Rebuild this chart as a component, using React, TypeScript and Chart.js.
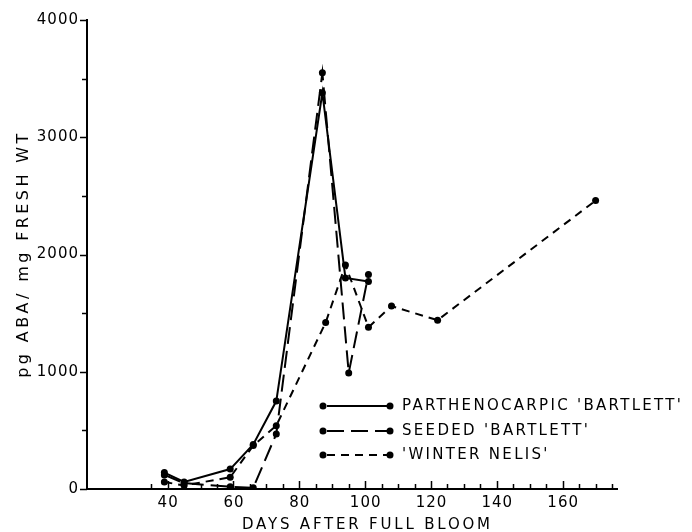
import { useEffect, useRef } from 'react';
import { Chart, registerables } from 'chart.js';

Chart.register(...registerables);

// Days after full bloom and pg ABA / mg fresh wt for each cultivar
const partDays = [39, 45, 59, 66, 73, 87, 94, 101];
const partVals = [140, 60, 170, 380, 750, 3380, 1800, 1770];

const seedDays = [39, 45, 59, 66, 73, 87, 95, 101];
const seedVals = [120, 50, 20, 10, 470, 3550, 990, 1830];

const nelisDays = [39, 45, 59, 66, 73, 88, 94, 101, 108, 122, 170];
const nelisVals = [60, 30, 100, 370, 540, 1420, 1910, 1380, 1560, 1440, 2460];

const seriesNames = ["PARTHENOCARPIC 'BARTLETT'", "SEEDED 'BARTLETT'", "'WINTER NELIS'"];

const xTickLabels = [40, 60, 80, 100, 120, 140, 160];
const yTickLabels = [0, 1000, 2000, 3000, 4000];

const xTitle = 'DAYS AFTER FULL BLOOM';
const yTitle = 'pg ABA/ mg FRESH WT';

const FONT = '"DejaVu Sans", sans-serif';

const toPoints = (xs: number[], ys: number[]) => xs.map((x, i) => ({ x, y: ys[i] }));

const axisDecorPlugin = {
  id: 'axisDecor',
  afterDraw(chart: any) {
    const { ctx, chartArea, scales } = chart;
    const x = scales.x;
    const y = scales.y;
    ctx.save();
    ctx.strokeStyle = '#000';
    ctx.lineWidth = 1.5;
    ctx.beginPath();
    for (let d = 35; d <= 175; d += 5) {
      const px = Math.round(x.getPixelForValue(d)) + 0.5;
      const len = d % 20 === 0 ? 8 : 5;
      ctx.moveTo(px, chartArea.bottom);
      ctx.lineTo(px, chartArea.bottom - len);
    }
    for (let v = 0; v <= 4000; v += 500) {
      const py = Math.round(y.getPixelForValue(v)) + 0.5;
      const len = v % 1000 === 0 ? 7 : 5;
      ctx.moveTo(chartArea.left - len, py);
      ctx.lineTo(chartArea.left, py);
    }
    ctx.stroke();

    ctx.fillStyle = '#000';
    ctx.font = `15px ${FONT}`;
    (ctx as any).letterSpacing = '1px';
    ctx.textBaseline = 'middle';
    ctx.textAlign = 'center';
    xTickLabels.forEach((v) => {
      ctx.fillText(String(v), x.getPixelForValue(v) + 0.5, chartArea.bottom + 14);
    });
    ctx.textAlign = 'right';
    yTickLabels.forEach((v) => {
      ctx.fillText(String(v), chartArea.left - 8, y.getPixelForValue(v));
    });

    // axis titles
    (ctx as any).letterSpacing = '2.8px';
    ctx.textAlign = 'left';
    ctx.fillText(xTitle, 242, 525);

    ctx.save();
    ctx.font = `16px ${FONT}`;
    (ctx as any).letterSpacing = '3.4px';
    ctx.translate(24, 254);
    ctx.rotate(-Math.PI / 2);
    ctx.textAlign = 'center';
    ctx.fillText(yTitle, 0, 0);
    ctx.restore();
    ctx.restore();
  },
};

const legendPlugin = {
  id: 'inlineLegend',
  afterDraw(chart: any, _args: any, opts: any) {
    const { ctx } = chart;
    const rows: number[] = opts.rows;
    ctx.save();
    chart.data.datasets.forEach((ds: any, i: number) => {
      const yy = rows[i];
      ctx.strokeStyle = '#000';
      ctx.lineWidth = 2;
      ctx.setLineDash(ds.borderDash || []);
      ctx.beginPath();
      ctx.moveTo(opts.x0 + 4, yy);
      ctx.lineTo(opts.x1, yy);
      ctx.stroke();
      ctx.setLineDash([]);
      ctx.fillStyle = '#000';
      [opts.x0, opts.x1].forEach((px: number) => {
        ctx.beginPath();
        ctx.arc(px, yy, 3.5, 0, Math.PI * 2);
        ctx.fill();
      });
      ctx.font = `15px ${FONT}`;
      (ctx as any).letterSpacing = '2.3px';
      ctx.textBaseline = 'middle';
      ctx.textAlign = 'left';
      ctx.fillText(ds.label, opts.textX, yy);
    });
    ctx.restore();
  },
};

export default function App() {
  const ref = useRef<HTMLCanvasElement | null>(null);

  useEffect(() => {
    if (!ref.current) return;
    const common = {
      borderColor: '#000',
      borderWidth: 2,
      pointRadius: 3.5,
      pointBackgroundColor: '#000',
      pointBorderWidth: 0,
      showLine: true,
      fill: false,
      tension: 0,
    };
    const chart = new Chart(ref.current, {
      type: 'scatter',
      data: {
        datasets: [
          { ...common, label: seriesNames[0], data: toPoints(partDays, partVals), borderDash: [] },
          { ...common, label: seriesNames[1], data: toPoints(seedDays, seedVals), borderDash: [17, 7] },
          { ...common, label: seriesNames[2], data: toPoints(nelisDays, nelisVals), borderDash: [8, 6] },
        ],
      },
      plugins: [axisDecorPlugin, legendPlugin],
      options: {
        animation: false,
        responsive: false,
        layout: { padding: { top: 20, right: 75, left: 0, bottom: 0 } },
        plugins: {
          legend: { display: false },
          tooltip: { enabled: false },
          inlineLegend: { rows: [406, 431, 455], x0: 323, x1: 390, textX: 402 },
        } as any,
        scales: {
          x: {
            type: 'linear',
            min: 15.5,
            max: 176.5,
            grid: { display: false },
            border: { display: true, color: '#000', width: 2 },
            afterBuildTicks: (s: any) => {
              s.ticks = xTickLabels.map((v) => ({ value: v }));
            },
            afterFit: (s: any) => {
              s.height = 43;
            },
            ticks: { display: false },
            title: { display: false },
          },
          y: {
            type: 'linear',
            min: 0,
            max: 4000,
            grid: { display: false },
            border: { display: true, color: '#000', width: 2 },
            afterBuildTicks: (s: any) => {
              s.ticks = yTickLabels.map((v) => ({ value: v }));
            },
            afterFit: (s: any) => {
              s.width = 87;
            },
            ticks: { display: false },
            title: { display: false },
          },
        },
      } as any,
    });
    return () => chart.destroy();
  }, []);

  return (
    <div style={{ position: 'fixed', left: 0, top: 0, width: 692, height: 532, background: '#fff' }}>
      <canvas ref={ref} width={692} height={532} style={{ display: 'block', width: 692, height: 532 }} />
    </div>
  );
}
